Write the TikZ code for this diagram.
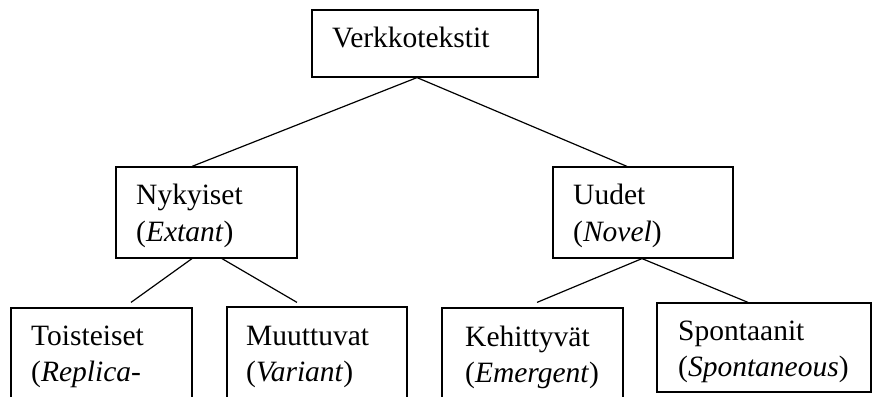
\documentclass[tikz,border=0pt]{standalone}
\usepackage{fontspec}
\setmainfont{Liberation Serif}
\begin{document}
\begin{tikzpicture}[x=1pt,y=1pt,
  box/.style={draw,line width=1.2pt,minimum width=#1,inner sep=0pt},
  txt/.style={anchor=base west,inner sep=0pt,font=\fontsize{29.5}{36.5}\selectfont,align=left},
  conn/.style={line width=1.2pt}]
\useasboundingbox (0,0) rectangle (874,396);
\clip (0,0) rectangle (874,396);
% boxes
\node[box=226pt,minimum height=67pt] (top) at (425,352.5) {};
\node[box=181pt,minimum height=91pt] (nyk) at (206.5,183.5) {};
\node[box=180pt,minimum height=91pt] (uud) at (643,183.5) {};
\node[box=181pt,minimum height=91pt] (tois) at (101.5,42.5) {};
\node[box=180pt,minimum height=91pt] (muut) at (317,43.5) {};
\node[box=181pt,minimum height=91pt] (keh) at (532.5,42.5) {};
\node[box=214pt,minimum height=89pt] (spon) at (764,48.5) {};
% texts
\node[txt] (ttop) at (332,348.3) {Verkkotekstit};
\node[txt] (tnyk) at (136,191) {Nykyiset};
\node[txt] (tnyk2) at (136,154.3) {(\textit{Extant})};
\node[txt] (tuud) at (573,191) {Uudet};
\node[txt] (tuud2) at (573,154.3) {(\textit{Novel})};
\node[txt] (ttois) at (31,51) {Toisteiset};
\node[txt] (ttois2) at (31,15) {(\textit{Replica-}};
\node[txt] (tmuut) at (246,51) {Muuttuvat};
\node[txt] (tmuut2) at (246,15) {(\textit{Variant})};
\node[txt] (tkeh) at (465,50) {Kehittyvät};
\node[txt] (tkeh2) at (465,14) {(\textit{Emergent})};
\node[txt] (tspon) at (678,56) {Spontaanit};
\node[txt] (tspon2) at (678,20) {(\textit{Spontaneous})};
% connectors
\draw[conn] ([xshift=-8pt]top.south) -- ([xshift=-14.5pt]nyk.north);
\draw[conn] ([xshift=-8pt]top.south) -- ([xshift=-16pt]uud.north);
\draw[conn] ([xshift=-14.5pt]nyk.south) -- ([xshift=29.5pt,yshift=5pt]tois.north);
\draw[conn] ([xshift=15.5pt]nyk.south) -- ([xshift=-20pt,yshift=4pt]muut.north);
\draw[conn] ([xshift=-1pt]uud.south) -- ([xshift=4.5pt,yshift=5pt]keh.north);
\draw[conn] ([xshift=-1pt]uud.south) -- ([xshift=-16pt]spon.north);
\end{tikzpicture}
\end{document}
